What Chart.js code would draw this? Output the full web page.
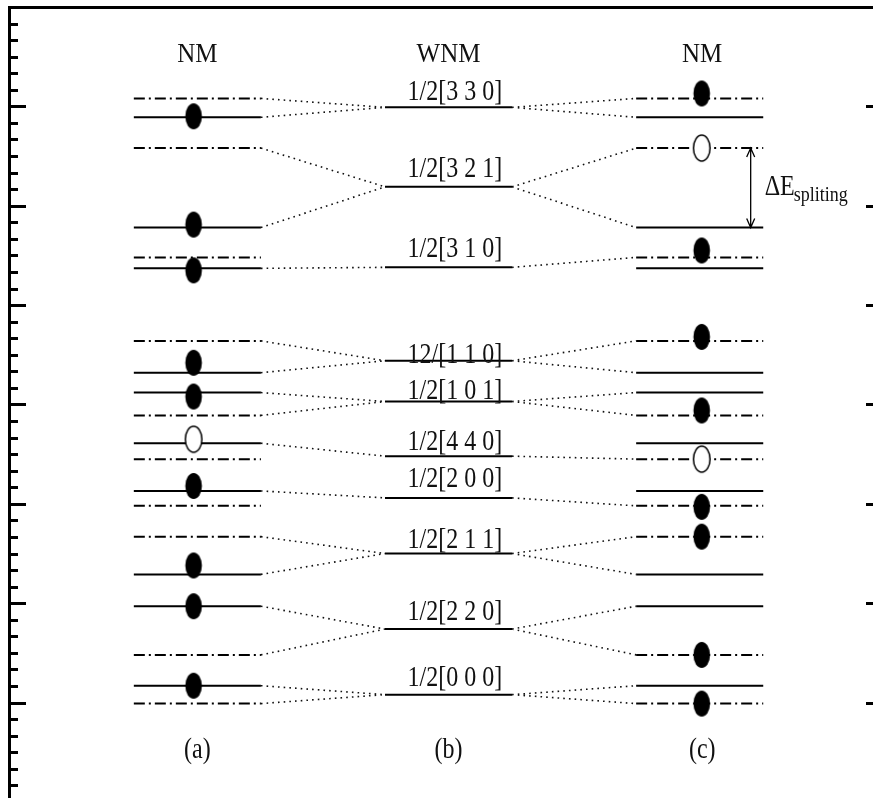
<!DOCTYPE html>
<html lang="en">
<head>
<meta charset="UTF-8">
<title>NM / WNM levels</title>
<script src="https://cdn.jsdelivr.net/npm/chart.js"></script>
<style>
    html, body {
        margin: 0;
        padding: 0;
        background: #fff;
        overflow: hidden;
    }
    #wrap {
        width: 873px;
        height: 798px;
    }
</style>
</head>
<body>
<div id="wrap"><canvas id="levels" width="873" height="798"></canvas></div>
<script>
    // energy levels (major tick = 1 unit)
    const wnmLabels = ['1/2[3 3 0]', '1/2[3 2 1]', '1/2[3 1 0]', '12/[1 1 0]', '1/2[1 0 1]',
                       '1/2[4 4 0]', '1/2[2 0 0]', '1/2[2 1 1]', '1/2[2 2 0]', '1/2[0 0 0]'];
    const wnmLevels = [5.99, 5.19, 4.38, 3.44, 3.03, 2.48, 2.06, 1.50, 0.74, 0.08];
    const nmSolid   = [5.89, 4.78, 4.37, 3.32, 3.12, 2.61, 2.13, 1.29, 0.97, 0.17];
    const nmDashed  = [6.08, 5.58, 4.48, 3.64, 2.89, 2.45, 1.98, 1.67, 0.48, -0.01];

    // dotted correlations: [WNM level, NM level]
    const linksA = [[5.99, 6.08], [5.99, 5.89], [5.19, 5.58], [5.19, 4.78], [4.38, 4.37],
                    [3.44, 3.64], [3.44, 3.32], [3.03, 3.12], [3.03, 2.89], [2.48, 2.61],
                    [2.06, 2.13], [1.50, 1.67], [1.50, 1.29], [0.74, 0.97], [0.74, 0.48],
                    [0.08, 0.17], [0.08, -0.01]];
    const linksC = [[5.99, 6.08], [5.99, 5.89], [5.19, 5.58], [5.19, 4.78], [4.38, 4.48],
                    [3.44, 3.64], [3.44, 3.32], [3.03, 3.12], [3.03, 2.89], [2.48, 2.45],
                    [2.06, 1.98], [1.50, 1.67], [1.50, 1.29], [0.74, 0.97], [0.74, 0.48],
                    [0.08, 0.17], [0.08, -0.01]];

    // occupied (filled) and empty (open) sites
    const filledA = [5.90, 4.81, 4.35, 3.42, 3.08, 2.18, 1.38, 0.97, 0.17];
    const openA   = [2.65];
    const filledC = [6.13, 4.55, 3.68, 2.94, 1.97, 1.67, 0.48, -0.01];
    const openC   = [5.58, 2.45];

    const majorTicks = [0, 1, 2, 3, 4, 5, 6, 7];
    const minorPerMajor = 6;
    const columnTitles = ['NM', 'WNM', 'NM'];
    const columnTags = ['(a)', '(b)', '(c)'];

    // layout
    const colA = 1, colB = 2, colC = 3;
    const half = 0.253;
    const markA = 0.985, markC = 3.008;
    const labelGap = [7, 10, 10, -2, 3, 6, 11, 6, 9, 9];
    const serif = '"Liberation Serif", "DejaVu Serif", serif';

    function segs(x, levels) {
        const pts = [];
        levels.forEach(v => {
            pts.push({x: x - half, y: v}, {x: x + half, y: v}, {x: x, y: null});
        });
        return pts;
    }

    function links(pairs, left) {
        const pts = [];
        pairs.forEach(p => {
            if (left) {
                pts.push({x: colA + half, y: p[1]}, {x: colB - half, y: p[0]});
            } else {
                pts.push({x: colB + half, y: p[0]}, {x: colC - half, y: p[1]});
            }
            pts.push({x: 2, y: null});
        });
        return pts;
    }

    function ellipse(filled) {
        const c = document.createElement('canvas');
        c.width = 20;
        c.height = 30;
        const g = c.getContext('2d');
        g.beginPath();
        g.ellipse(10, 15, 8.3, 13, 0, 0, Math.PI * 2);
        if (filled) {
            g.fillStyle = '#000';
            g.fill();
        } else {
            g.fillStyle = '#fff';
            g.fill();
            g.lineWidth = 1.5;
            g.strokeStyle = '#000';
            g.stroke();
        }
        return c;
    }
    const dotFull = ellipse(true);
    const dotOpen = ellipse(false);

    function text(ctx, str, px, py, size, align, base, sy) {
        ctx.save();
        ctx.translate(px, py);
        ctx.scale(1, sy);
        ctx.font = size + 'px ' + serif;
        ctx.textAlign = align;
        ctx.textBaseline = base;
        ctx.fillStyle = '#111';
        ctx.fillText(str, 0, 0);
        ctx.restore();
    }

    const decor = {
        id: 'decor',
        afterDraw(chart) {
            const {ctx, chartArea: a, scales: {x, y}} = chart;
            ctx.save();
            ctx.strokeStyle = '#000';
            ctx.lineWidth = 3;
            ctx.beginPath();
            ctx.moveTo(a.left + 0.5, a.bottom);
            ctx.lineTo(a.left + 0.5, a.top + 0.5);
            ctx.lineTo(a.right, a.top + 0.5);
            ctx.stroke();

            ctx.beginPath();
            const first = Math.ceil(y.min * minorPerMajor);
            const last = majorTicks[majorTicks.length - 1] * minorPerMajor;
            for (let k = first; k <= last; k++) {
                const py = Math.round(y.getPixelForValue(k / minorPerMajor)) + 0.5;
                const len = k % minorPerMajor === 0 ? 17 : 9;
                ctx.moveTo(a.left, py);
                ctx.lineTo(a.left + len, py);
            }
            majorTicks.forEach(v => {
                const py = Math.round(y.getPixelForValue(v)) + 0.5;
                ctx.moveTo(a.right - 7, py);
                ctx.lineTo(a.right, py);
            });
            ctx.stroke();

            // column titles and tags
            [colA, colB, colC + 0.01].forEach((cx, i) => {
                text(ctx, columnTitles[i], x.getPixelForValue(cx), y.getPixelForValue(6.52), 25, 'center', 'middle', 1.1);
                text(ctx, columnTags[i], x.getPixelForValue(cx), y.getPixelForValue(-0.48), 24, 'center', 'middle', 1.2);
            });

            // WNM level labels
            const lx = x.getPixelForValue(colB) - 41;
            wnmLabels.forEach((s, i) => {
                text(ctx, s, lx, y.getPixelForValue(wnmLevels[i]) - labelGap[i], 24, 'left', 'alphabetic', 1.2);
            });

            // splitting arrow
            const ax = x.getPixelForValue(3.203);
            const y1 = y.getPixelForValue(nmDashed[1]);
            const y2 = y.getPixelForValue(nmSolid[1]);
            ctx.lineWidth = 1.3;
            ctx.beginPath();
            ctx.moveTo(ax, y1);
            ctx.lineTo(ax, y2);
            ctx.moveTo(ax - 4, y1 + 9);
            ctx.lineTo(ax, y1);
            ctx.lineTo(ax + 4, y1 + 9);
            ctx.moveTo(ax - 4, y2 - 9);
            ctx.lineTo(ax, y2);
            ctx.lineTo(ax + 4, y2 - 9);
            ctx.stroke();
            const my = (y1 + y2) / 2;
            text(ctx, '\u0394E', ax + 14, my + 7, 24, 'left', 'alphabetic', 1.25);
            text(ctx, 'spliting', ax + 43, my + 13, 18, 'left', 'alphabetic', 1.15);
            ctx.restore();
        }
    };

    const solidStyle = {borderColor: '#000', borderWidth: 2, pointRadius: 0, showLine: true, spanGaps: false, fill: false};
    const dashStyle = Object.assign({}, solidStyle, {borderDash: [11, 4, 2, 4]});
    const dotStyle = {borderColor: '#111', borderWidth: 1.6, borderDash: [1.6, 4.1], pointRadius: 0, showLine: true, spanGaps: false, fill: false};

    function marks(x, vals, style) {
        return {
            data: vals.map(v => ({x: x, y: v})),
            pointStyle: style,
            pointRadius: 5,
            showLine: false,
            order: 0
        };
    }

    new Chart(document.getElementById('levels'), {
        type: 'scatter',
        data: {
            datasets: [
                marks(markA, filledA, dotFull),
                marks(markA, openA, dotOpen),
                marks(markC, filledC, dotFull),
                marks(markC, openC, dotOpen),
                Object.assign({data: segs(colA, nmSolid), order: 1}, solidStyle),
                Object.assign({data: segs(colA, nmDashed), order: 1}, dashStyle),
                Object.assign({data: segs(colB, wnmLevels), order: 1}, solidStyle),
                Object.assign({data: segs(colC, nmSolid), order: 1}, solidStyle),
                Object.assign({data: segs(colC, nmDashed), order: 1}, dashStyle),
                Object.assign({data: links(linksA, true), order: 2}, dotStyle),
                Object.assign({data: links(linksC, false), order: 2}, dotStyle)
            ]
        },
        options: {
            responsive: false,
            animation: false,
            events: [],
            layout: {autoPadding: false, padding: {left: 9, top: 7, right: 0, bottom: 0}},
            plugins: {legend: {display: false}, tooltip: {enabled: false}},
            scales: {
                x: {type: 'linear', min: 0.25, max: 3.69, display: false},
                y: {type: 'linear', min: -0.96, max: 7, display: false}
            }
        },
        plugins: [decor]
    });
</script>
</body>
</html>
